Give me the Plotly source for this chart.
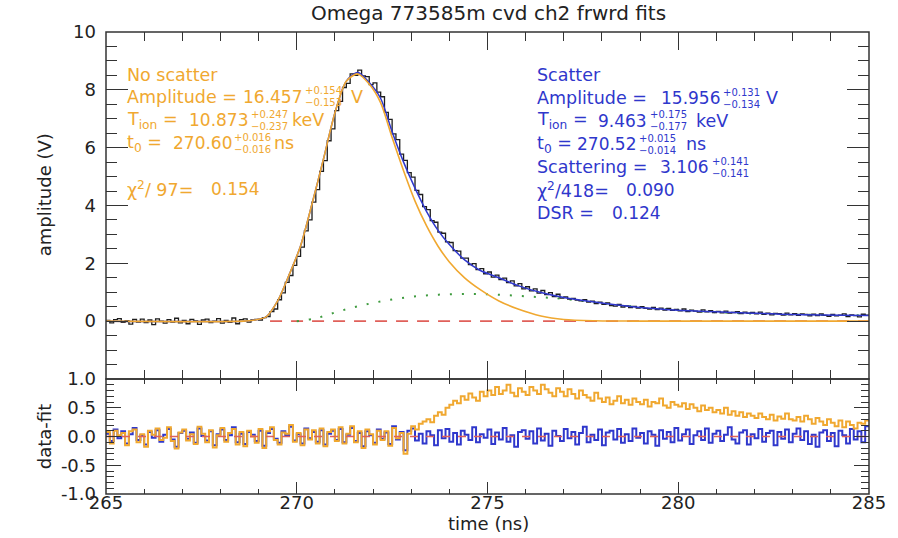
import plotly.graph_objects as go

# ---------------- data ----------------
t_start = 265.0
bin_w = 0.1
signal = [
    0.03, -0.06, 0.05, 0.09, -0.04, 0.02, -0.10, 0.06, -0.03, 0.07,
    -0.05, 0.04, -0.12, 0.08, 0.00, -0.07, 0.05, -0.03, 0.10, -0.06,
    0.03, -0.09, 0.06, 0.01, -0.11, 0.04, 0.07, -0.05, 0.00, 0.09,
    -0.07, 0.03, -0.04, 0.11, -0.09, 0.05, 0.08, -0.03, 0.04, 0.06,
    0.04, 0.12, 0.16, 0.33, 0.42, 0.74, 0.98, 1.34, 1.58, 1.93,
    2.24, 2.56, 3.12, 3.50, 4.12, 4.55, 5.18, 5.55, 6.24, 6.65,
    7.28, 7.60, 8.08, 8.22, 8.55, 8.50, 8.68, 8.48, 8.46, 8.18,
    8.24, 7.92, 7.76, 7.22, 6.98, 6.48, 6.28, 5.78, 5.56, 5.14,
    4.98, 4.52, 4.38, 3.96, 3.86, 3.48, 3.42, 3.08, 3.04, 2.74,
    2.72, 2.44, 2.42, 2.18, 2.18, 1.96, 1.99, 1.78, 1.82, 1.64,
    1.70, 1.52, 1.59, 1.44, 1.49, 1.33, 1.39, 1.22, 1.30, 1.12,
    1.19, 1.05, 1.12, 0.97, 1.06, 0.92, 0.99, 0.85, 0.93, 0.80,
    0.84, 0.76, 0.79, 0.73, 0.70, 0.74, 0.66, 0.69, 0.61, 0.66,
    0.58, 0.63, 0.54, 0.52, 0.58, 0.49, 0.53, 0.47, 0.51, 0.45,
    0.50, 0.44, 0.42, 0.48, 0.40, 0.45, 0.38, 0.44, 0.37, 0.41,
    0.36, 0.42, 0.33, 0.38, 0.35, 0.31, 0.39, 0.32, 0.36, 0.30,
    0.34, 0.29, 0.35, 0.28, 0.30, 0.33, 0.26, 0.31, 0.27, 0.30,
    0.25, 0.31, 0.24, 0.28, 0.22, 0.27, 0.26, 0.21, 0.28, 0.22,
    0.26, 0.20, 0.25, 0.23, 0.18, 0.24, 0.19, 0.25, 0.20, 0.17,
    0.23, 0.18, 0.21, 0.25, 0.16, 0.22, 0.19, 0.15, 0.24, 0.21,
]

fit_t = [265, 268.6, 268.9, 269.2, 269.5, 269.8, 270.1, 270.4, 270.7, 271.0, 271.3,
         271.6, 271.9, 272.2, 272.5, 272.8, 273.1, 273.4, 273.7, 274.0, 274.4,
         274.8, 275.3, 275.8, 276.4, 277.0, 277.8, 278.8, 280.0, 281.5, 283.0, 285.0]
fit_scatter = [0, 0, 0.04, 0.15, 0.70, 1.60, 2.60, 4.05, 5.60, 7.20, 8.30,
               8.60, 8.25, 7.70, 6.55, 5.50, 4.60, 3.80, 3.15, 2.65, 2.12,
               1.76, 1.50, 1.23, 0.99, 0.82, 0.66, 0.50, 0.38, 0.30, 0.23, 0.20]
fit_noscatter = [0, 0, 0.04, 0.15, 0.70, 1.60, 2.60, 4.05, 5.60, 7.20, 8.30,
                 8.55, 8.20, 7.55, 6.35, 5.20, 4.15, 3.30, 2.60, 2.05, 1.50,
                 1.10, 0.70, 0.42, 0.18, 0.06, 0.015, 0.003, 0, 0, 0, 0]

scat_t = [270.0, 270.5, 271.0, 271.5, 272.0, 272.5, 273.0, 273.5, 274.0, 274.5,
          275.0, 275.5, 276.0, 276.5, 277.0, 278.0, 279.0, 281.0, 283.0, 285.0]
scat_comp = [0, 0.10, 0.30, 0.48, 0.63, 0.75, 0.84, 0.90, 0.93, 0.94,
             0.93, 0.90, 0.86, 0.82, 0.77, 0.62, 0.49, 0.31, 0.23, 0.20]

res_scatter = [
    0.05, -0.08, 0.12, -0.03, 0.09, -0.12, 0.04, 0.15, -0.06, 0.02,
    -0.14, 0.08, -0.02, 0.11, -0.09, 0.03, 0.13, -0.05, -0.18, 0.06,
    0.10, -0.04, 0.07, -0.11, 0.14, 0.01, -0.07, 0.09, -0.15, 0.04,
    0.12, -0.06, 0.02, 0.16, -0.10, 0.05, -0.13, 0.08, 0.03, -0.08,
    0.10, -0.16, 0.06, 0.13, -0.04, -0.11, 0.09, 0.02, 0.17, -0.07,
    0.04, -0.12, 0.14, -0.03, 0.08, -0.09, 0.11, -0.14, 0.05, 0.10,
    -0.06, 0.13, -0.10, 0.03, 0.15, -0.08, 0.06, -0.17, 0.09, 0.02,
    -0.11, 0.12, -0.04, 0.07, -0.13, 0.18, -0.05, 0.08, -0.24, 0.10,
    0.14, -0.07, 0.05, -0.12, 0.09, 0.02, -0.15, 0.11, -0.03, 0.13,
    -0.09, 0.06, -0.14, 0.10, 0.03, -0.06, 0.16, -0.10, 0.04, -0.02,
    0.12, -0.13, 0.07, -0.05, 0.15, -0.09, 0.02, -0.18, 0.08, 0.11,
    -0.04, 0.09, -0.12, 0.14, -0.07, 0.05, -0.16, 0.10, 0.01, -0.08,
    0.13, -0.03, 0.08, -0.14, 0.06, 0.17, -0.10, 0.03, -0.06, 0.12,
    -0.15, 0.07, 0.10, -0.05, 0.13, -0.11, 0.04, -0.08, 0.14, -0.02,
    0.06, -0.12, 0.09, 0.03, -0.16, 0.11, -0.04, 0.08, -0.10, 0.15,
    -0.07, 0.04, 0.12, -0.13, 0.02, 0.09, -0.06, 0.14, -0.11, 0.05,
    0.10, -0.08, 0.03, 0.16, -0.05, -0.12, 0.07, 0.11, -0.14, 0.04,
    -0.03, 0.13, -0.09, 0.06, 0.10, -0.15, 0.08, -0.04, 0.12, -0.10,
    0.05, 0.14, -0.06, 0.09, -0.13, 0.03, -0.18, 0.07, 0.11, -0.08,
    0.06, -0.17, 0.10, 0.02, -0.12, 0.13, -0.05, 0.09, -0.10, 0.18,
]
res_noscatter = [
    0.08, -0.12, 0.10, 0.02, 0.06, -0.15, 0.09, 0.12, -0.10, 0.04,
    -0.18, 0.10, 0.03, 0.14, -0.06, -0.02, 0.16, -0.08, -0.21, 0.07,
    0.12, -0.07, 0.04, -0.13, 0.17, 0.05, -0.10, 0.11, -0.19, 0.02,
    0.15, -0.09, 0.06, 0.13, -0.14, 0.08, -0.17, 0.10, 0.00, -0.11,
    0.13, -0.20, 0.09, 0.16, -0.06, -0.14, 0.07, 0.05, 0.20, -0.09,
    0.06, -0.15, 0.12, -0.05, 0.11, -0.12, 0.14, -0.17, 0.08, 0.12,
    -0.08, 0.16, -0.12, 0.05, 0.18, -0.10, 0.09, -0.20, 0.12, 0.04,
    -0.14, 0.10, -0.06, 0.09, -0.16, 0.15, -0.03, 0.06, -0.30, 0.05,
    0.18, 0.12, 0.22, 0.26, 0.30, 0.25, 0.36, 0.42, 0.38, 0.50,
    0.55, 0.62, 0.58, 0.70, 0.64, 0.75, 0.68, 0.62, 0.78, 0.70,
    0.80, 0.72, 0.86, 0.74, 0.80, 0.90, 0.76, 0.70, 0.84, 0.78,
    0.72, 0.86, 0.80, 0.74, 0.90, 0.82, 0.76, 0.70, 0.84, 0.78,
    0.70, 0.82, 0.74, 0.66, 0.80, 0.72, 0.68, 0.62, 0.76, 0.66,
    0.60, 0.68, 0.56, 0.62, 0.70, 0.58, 0.64, 0.55, 0.66, 0.60,
    0.56, 0.64, 0.52, 0.60, 0.58, 0.66, 0.54, 0.50, 0.60, 0.55,
    0.52, 0.58, 0.48, 0.56, 0.50, 0.44, 0.54, 0.46, 0.50, 0.42,
    0.46, 0.40, 0.50, 0.38, 0.44, 0.36, 0.42, 0.34, 0.40, 0.36,
    0.32, 0.40, 0.34, 0.30, 0.38, 0.28, 0.35, 0.31, 0.40, 0.30,
    0.28, 0.34, 0.26, 0.36, 0.30, 0.22, 0.32, 0.26, 0.20, 0.30,
    0.24, 0.18, 0.28, 0.16, 0.26, 0.20, 0.14, 0.24, 0.22, 0.28,
]

zero_top_t = [269.3, 285.0]
zero_low_t = [265.0, 285.0]
zero_v = [0, 0]

y_top_ticks = [0, 2, 4, 6, 8, 10]
y_low_ticks = [-1.0, -0.5, 0.0, 0.5, 1.0]
y_low_labels = ["-1.0", "-0.5", "0.0", "0.5", "1.0"]
x_ticks = [265, 270, 275, 280, 285]

# ---------------- styling ----------------
ORANGE = "#F0A830"
BLUE = "#2F37CC"
BLACK = "#1E1E1E"
GREEN = "#3E9B3E"
RED = "#E0605A"
AX = "#333333"
FONT = "DejaVu Sans"

W, H = 898, 538
L, R, T, B = 106, 872, 32, 494
SPLIT = 379


def xp(px):
    return (px - L) / (R - L)


def yp(py):
    return (B - py) / (B - T)


n = len(signal)
tb = [t_start + bin_w * i for i in range(n)] + [t_start + bin_w * n]
sig_s = signal + [signal[-1]]
rs_s = res_scatter + [res_scatter[-1]]
rn_s = res_noscatter + [res_noscatter[-1]]

fig = go.Figure()
# top panel
fig.add_trace(go.Scatter(x=zero_top_t, y=zero_v, mode="lines", xaxis="x2", yaxis="y",
                         line=dict(color=RED, width=1.6, dash="12px,9px")))
fig.add_trace(go.Scatter(x=scat_t, y=scat_comp, mode="lines", xaxis="x2", yaxis="y",
                         line=dict(color=GREEN, width=2, dash="2px,10px", shape="spline")))
fig.add_trace(go.Scatter(x=tb, y=sig_s, mode="lines", xaxis="x2", yaxis="y",
                         line=dict(color=BLACK, width=1.3, shape="hv")))
fig.add_trace(go.Scatter(x=fit_t, y=fit_scatter, mode="lines", xaxis="x2", yaxis="y",
                         line=dict(color=BLUE, width=1.5, shape="spline", smoothing=0.8)))
fig.add_trace(go.Scatter(x=fit_t, y=fit_noscatter, mode="lines", xaxis="x2", yaxis="y",
                         line=dict(color=ORANGE, width=1.6, shape="spline", smoothing=0.8)))
# lower panel
fig.add_trace(go.Scatter(x=tb, y=rs_s, mode="lines", xaxis="x", yaxis="y2",
                         line=dict(color=BLUE, width=2, shape="hv")))
fig.add_trace(go.Scatter(x=tb, y=rn_s, mode="lines", xaxis="x", yaxis="y2",
                         line=dict(color=ORANGE, width=2, shape="hv")))
fig.add_trace(go.Scatter(x=zero_low_t, y=zero_v, mode="lines", xaxis="x", yaxis="y2",
                         line=dict(color=RED, width=1.4, dash="8px,8px")))

split_frac = (B - SPLIT) / (B - T)
tickfont = dict(family=FONT, size=18, color="#222222")

common_axis = dict(showgrid=False, zeroline=False, showline=False,
                   mirror="ticks", ticks="inside", tickcolor=AX,
                   tickwidth=1.3, tickfont=tickfont)

fig.update_layout(
    width=W, height=H,
    margin=dict(l=L, r=W - R, t=T, b=H - B),
    paper_bgcolor="white", plot_bgcolor="white",
    showlegend=False,
    xaxis=dict(common_axis, domain=[0, 1], anchor="y2", range=[265, 285],
               tickvals=x_ticks, ticklen=12, ticklabelstandoff=-4,
               minor=dict(dtick=1, ticklen=5, ticks="inside", tickcolor=AX, showgrid=False)),
    xaxis2=dict(common_axis, domain=[0, 1], anchor="y", range=[265, 285], matches="x",
                tickvals=x_ticks, ticklen=18, showticklabels=False,
                minor=dict(dtick=1, ticklen=9, ticks="inside", tickcolor=AX, showgrid=False)),
    yaxis=dict(common_axis, domain=[split_frac, 1], anchor="x2", range=[-2, 10],
               tickvals=y_top_ticks, ticklen=22, ticklabelstandoff=9,
               minor=dict(dtick=0.5, ticklen=11, ticks="inside", tickcolor=AX, showgrid=False)),
    yaxis2=dict(common_axis, domain=[0, split_frac], anchor="x", range=[-1, 1],
                tickvals=y_low_ticks, ticktext=y_low_labels, ticklen=15, ticklabelstandoff=9,
                minor=dict(dtick=0.1, ticklen=8, ticks="inside", tickcolor=AX, showgrid=False)),
    shapes=[
        dict(type="rect", xref="paper", yref="paper", x0=0, x1=1, y0=split_frac, y1=1,
             line=dict(color=AX, width=1.5), layer="above"),
        dict(type="rect", xref="paper", yref="paper", x0=0, x1=1, y0=0, y1=split_frac,
             line=dict(color=AX, width=1.5), layer="above"),
    ],
)

anns = []


def ann(text, x, y, color, size=17.5, xanchor="left", angle=0):
    anns.append(dict(text=text, x=xp(x), y=yp(y), xref="paper", yref="paper",
                     xanchor=xanchor, yanchor="middle", showarrow=False, textangle=angle,
                     font=dict(family=FONT, size=size, color=color), borderpad=0))


def value_line(label, num, sup, sub, unit, x_label, x_num_end, x_unit, y, color):
    ann(label, x_label, y, color)
    ann(num, x_num_end, y, color, size=17, xanchor="right")
    ann(sup, x_num_end + 1, y - 6, color, size=10)
    ann(sub, x_num_end + 1, y + 6, color, size=10)
    if unit:
        ann(unit, x_unit, y, color)


# title and axis titles
ann("Omega 773585m cvd ch2 frwrd fits", 490, 13, "#222222", size=20, xanchor="center")
ann("time (ns)", 490, 523, "#222222", size=18, xanchor="center")
ann("amplitude (V)", 44, 195, "#222222", size=18, xanchor="center", angle=-90)
ann("data-fit", 44, 437, "#222222", size=18, xanchor="center", angle=-90)

# No scatter block
ann("No scatter", 126, 75, ORANGE)
value_line("Amplitude =", "16.457", "+0.154", "\u22120.153", "V", 126, 304, 351, 97, ORANGE)
value_line("T<sub>ion</sub> =", "10.873", "+0.247", "\u22120.237", "keV", 126, 250, 292, 120, ORANGE)
value_line("t<sub>0</sub> =", "270.60", "+0.016", "\u22120.016", "ns", 126, 233, 274, 143, ORANGE)
ann("\u03c7<sup>2</sup>/ 97=", 126, 189, ORANGE)
ann("0.154", 210, 189, ORANGE, size=17)

# Scatter block
ann("Scatter", 538, 75, BLUE)
value_line("Amplitude =", "15.956", "+0.131", "\u22120.134", "V", 538, 723, 768, 98, BLUE)
value_line("T<sub>ion</sub> =", "9.463", "+0.175", "\u22120.177", "keV", 538, 650, 697, 121, BLUE)
value_line("t<sub>0</sub> =", "270.52", "+0.015", "\u22120.014", "ns", 538, 639, 687, 144, BLUE)
value_line("Scattering =", "3.106", "+0.141", "\u22120.141", "", 538, 712, 0, 167, BLUE)
ann("\u03c7<sup>2</sup>/418=", 538, 190, BLUE)
ann("0.090", 627, 190, BLUE, size=17)
ann("DSR =", 538, 213, BLUE)
ann("0.124", 613, 213, BLUE, size=17)

fig.update_layout(annotations=anns)
fig.write_html("out.html")
